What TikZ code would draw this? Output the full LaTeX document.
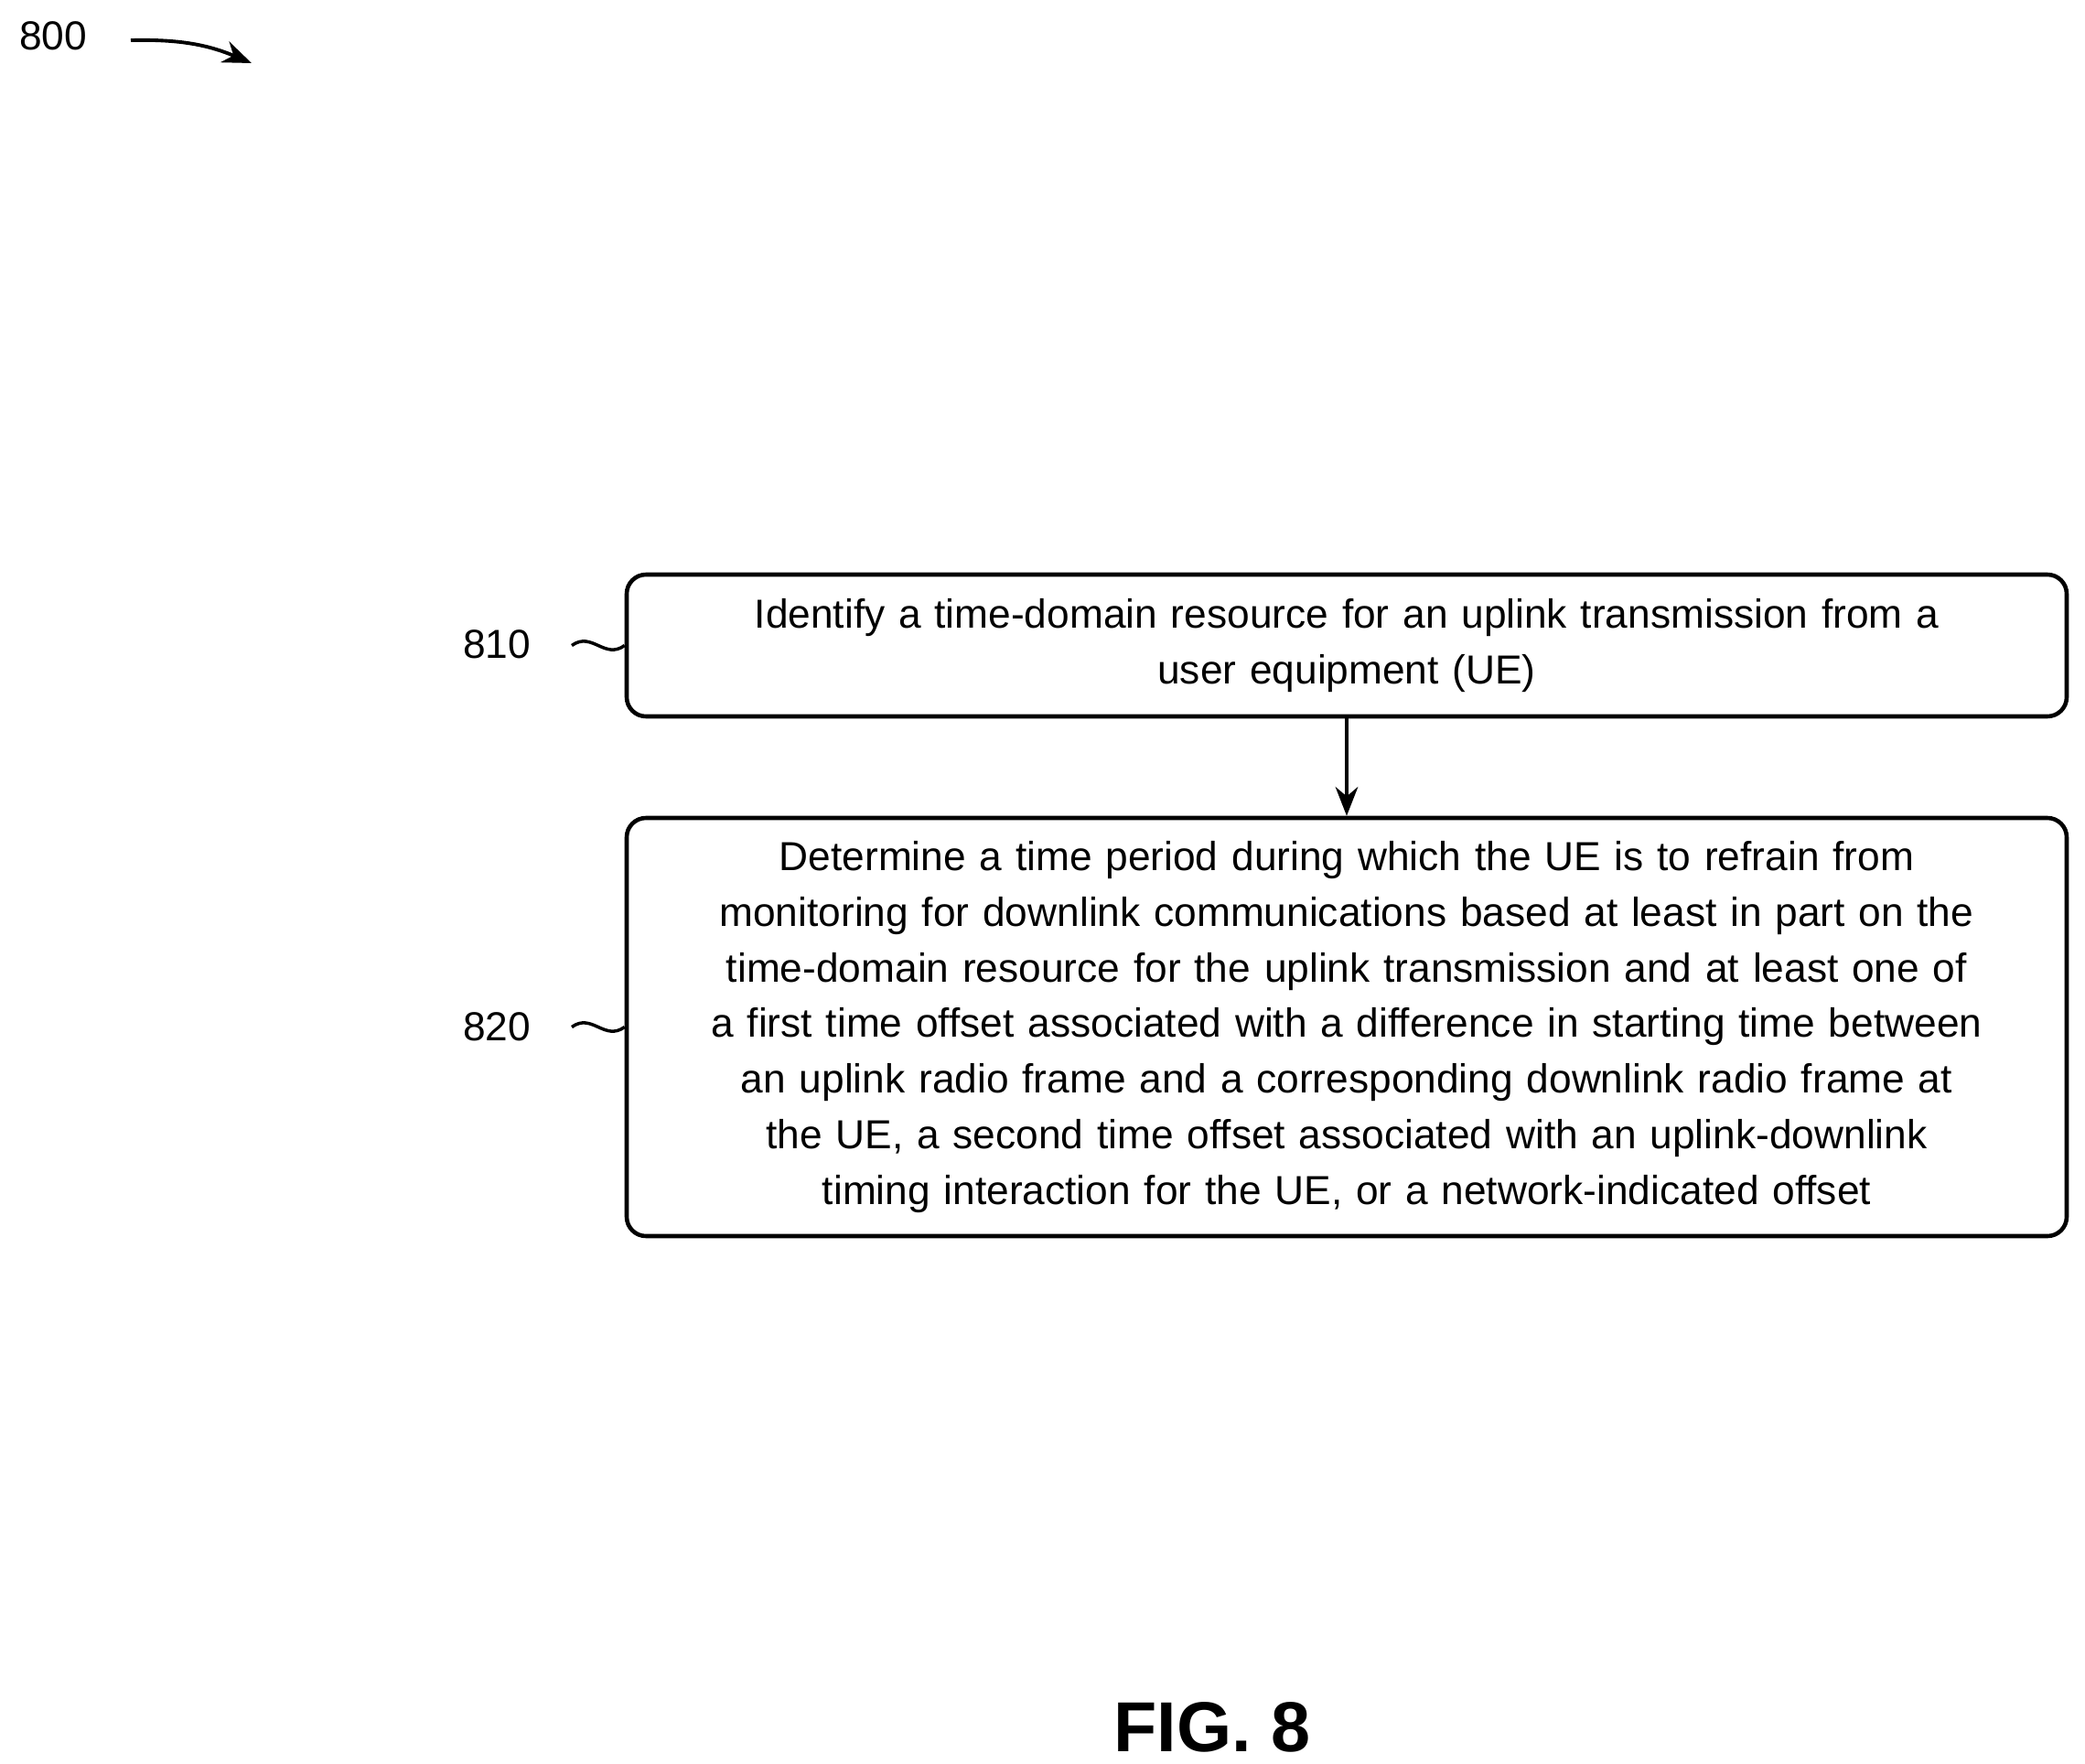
\documentclass[tikz,border=0pt]{standalone}
\usepackage{fontspec}
\setmainfont{Liberation Sans}
\usetikzlibrary{arrows.meta,positioning}
\begin{document}
\begin{tikzpicture}[
	stepbox/.style={draw,line width=1.3pt,rounded corners=6pt,align=center,
		text width=15.5cm,inner xsep=0.12cm,font=\fontsize{12.6pt}{17.3pt}\selectfont},
	ref/.style={font=\fontsize{12.6pt}{17pt}\selectfont},
	flow/.style={line width=1.1pt,-{Stealth[length=9pt,width=7pt]}}]
	\useasboundingbox (0,0) rectangle (22.79,-19.28);
	
	\node[ref] (n800) at (0.58,-0.39) {800};
	\coordinate (a800) at (2.75,-0.69);
	\draw[flow] (1.43,-0.44) to[bend left=12] (a800);
	
	\node[stepbox,minimum height=1.55cm] (b810) at (14.72,-7.055)
	{Identify a time-domain resource for an uplink transmission from a\\ user equipment (UE)};
	\node[stepbox,minimum height=4.57cm] (b820) at (14.72,-11.225)
	{Determine a time period during which the UE is to refrain from\\
	monitoring for downlink communications based at least in part on the\\
	time-domain resource for the uplink transmission and at least one of\\
	a first time offset associated with a difference in starting time between\\
	an uplink radio frame and a corresponding downlink radio frame at\\
	the UE, a second time offset associated with an uplink-downlink\\
	timing interaction for the UE, or a network-indicated offset};
	\draw[flow] (b810) -- (b820);
	
	\node[ref] (l810) at (5.43,-7.04) {810};
	\node[ref] (l820) at (5.43,-11.22) {820};
	\coordinate (t810) at (6.25,-7.055);
	\coordinate (t820) at (6.25,-11.225);
	\draw[line width=1pt] (t810) .. controls +(0.22,0.16) and +(-0.22,-0.16) .. (b810.west);
	\draw[line width=1pt] (t820) .. controls +(0.22,0.16) and +(-0.22,-0.16) .. (b820.west);
	
	\node[font=\bfseries\fontsize{22pt}{26pt}\selectfont] (fig) at (13.25,-18.88) {FIG. 8};
\end{tikzpicture}
\end{document}
